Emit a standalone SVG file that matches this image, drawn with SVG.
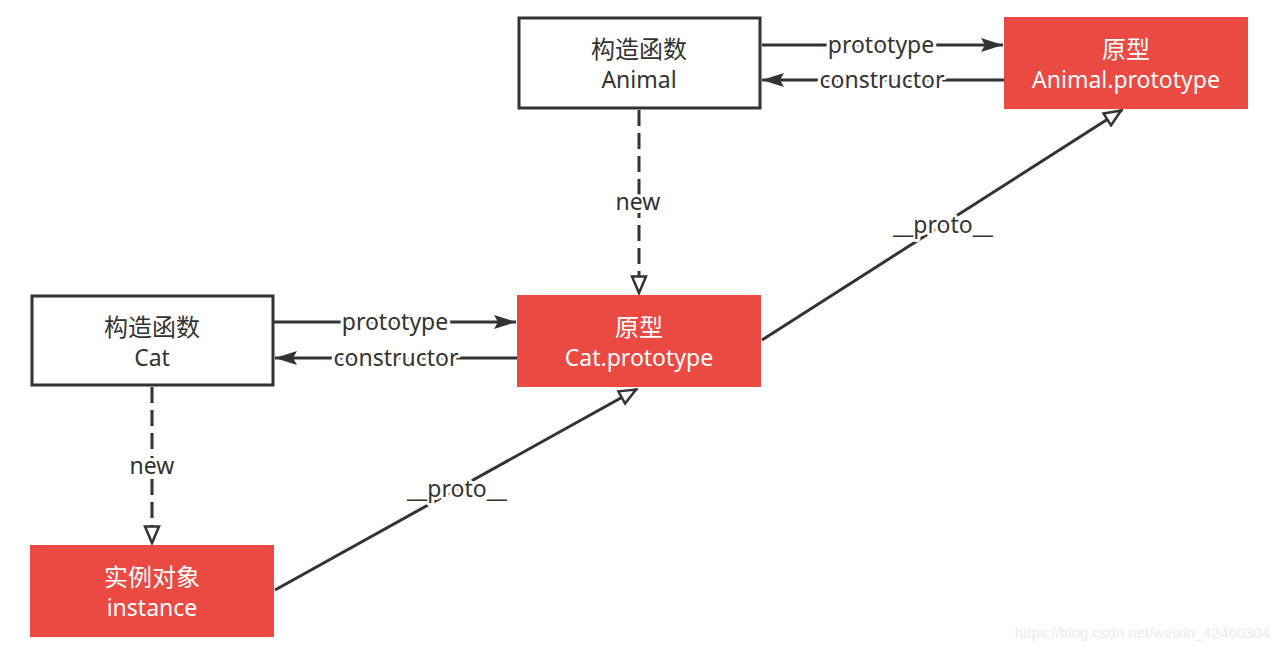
<svg xmlns="http://www.w3.org/2000/svg" width="1280" height="650" viewBox="0 0 1280 650">
<defs>
<style>
.box{fill:#fff;stroke:#333;stroke-width:3}
.red{fill:#ea4a42}
.t{font-family:"Noto Sans","Noto Sans CJK SC",sans-serif;font-size:23px;text-anchor:middle;fill:#333}
.c{font-size:24px}
.w{fill:#fff}
.lbl{font-family:"Noto Sans","Noto Sans CJK SC",sans-serif;font-size:23px;text-anchor:middle;fill:#333;stroke:#fff;stroke-width:6;paint-order:stroke;stroke-linejoin:round}
.ln{stroke:#333;stroke-width:3;fill:none}
.dash{stroke:#333;stroke-width:3;fill:none;stroke-dasharray:16 7}
</style>
<marker id="fill" markerUnits="userSpaceOnUse" markerWidth="24" markerHeight="18" refX="23" refY="9" orient="auto" viewBox="0 0 24 18">
<path d="M1,2 L23,9 L1,16 L5,9 z" fill="#333"/>
</marker>
<marker id="open" markerUnits="userSpaceOnUse" markerWidth="20" markerHeight="18" refX="19" refY="9" orient="auto" viewBox="0 0 20 18">
<path d="M1.5,2 L18,9 L1.5,16 z" fill="#fff" stroke="#333" stroke-width="2.5" stroke-linejoin="miter"/>
</marker>
</defs>
<rect width="1280" height="650" fill="#fff"/>
<g id="connectors">
<line class="ln" x1="762" y1="45" x2="1003" y2="45" marker-end="url(#fill)"/>
<line class="ln" x1="1004" y1="80" x2="762" y2="80" marker-end="url(#fill)"/>
<line class="ln" x1="274" y1="322" x2="516" y2="322" marker-end="url(#fill)"/>
<line class="ln" x1="517" y1="358" x2="275" y2="358" marker-end="url(#fill)"/>
<line class="dash" x1="639" y1="110" x2="639" y2="294" marker-end="url(#open)"/>
<line class="dash" x1="152" y1="387" x2="152" y2="544" marker-end="url(#open)"/>
<line class="ln" x1="762" y1="340" x2="1122" y2="110" marker-end="url(#open)"/>
<line class="ln" x1="275" y1="590" x2="637" y2="389" marker-end="url(#open)"/>
<text class="lbl" x="881" y="53">prototype</text>
<text class="lbl" x="882" y="88">constructor</text>
<text class="lbl" x="395" y="330">prototype</text>
<text class="lbl" x="396" y="366">constructor</text>
<text class="lbl" x="638" y="210">new</text>
<text class="lbl" x="152" y="474">new</text>
<text class="lbl" x="943" y="233">__proto__</text>
<text class="lbl" x="457" y="497">__proto__</text>
</g>
<g id="animal">
<rect class="box" x="519" y="18" width="241" height="90"/>
<text class="t c" x="639" y="58">构造函数</text>
<text class="t" x="639" y="88">Animal</text>
</g>
<g id="animal-prototype">
<rect class="red" x="1004" y="17" width="244" height="92"/>
<text class="t c w" x="1126" y="58">原型</text>
<text class="t w" x="1126" y="88">Animal.prototype</text>
</g>
<g id="cat">
<rect class="box" x="32" y="296" width="241" height="89"/>
<text class="t c" x="152" y="336">构造函数</text>
<text class="t" x="152" y="366">Cat</text>
</g>
<g id="cat-prototype">
<rect class="red" x="517" y="295" width="244" height="92"/>
<text class="t c w" x="639" y="336">原型</text>
<text class="t w" x="639" y="366">Cat.prototype</text>
</g>
<g id="instance">
<rect class="red" x="30" y="545" width="244" height="92"/>
<text class="t c w" x="152" y="586">实例对象</text>
<text class="t w" x="152" y="616">instance</text>
</g>
<text x="1270" y="638" font-family="Liberation Sans, sans-serif" font-size="15" fill="#ececec" text-anchor="end">https://blog.csdn.net/weixin_42460304</text>
</svg>
